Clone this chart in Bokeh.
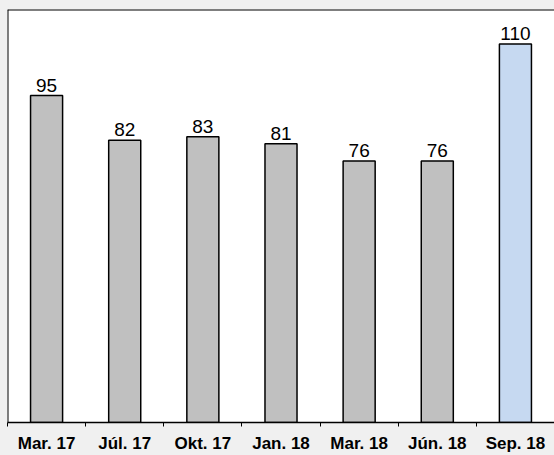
from bokeh.plotting import figure
from bokeh.models import Range1d, FixedTicker, Span, ColumnDataSource, GlobalInlineStyleSheet
from bokeh.core.properties import value
from bokeh.embed import file_html
from bokeh.resources import INLINE

categories = ["Mar. 17", "Júl. 17", "Okt. 17", "Jan. 18", "Mar. 18", "Jún. 18", "Sep. 18"]
values = [95, 82, 83, 81, 76, 76, 110]
bar_colors = ["#c0c0c0", "#c0c0c0", "#c0c0c0", "#c0c0c0", "#c0c0c0", "#c0c0c0", "#c6d9f1"]
value_labels = [str(v) for v in values]

n = len(categories)
centers = [i + 0.5 for i in range(n)]

src = ColumnDataSource(dict(x=centers, top=values, color=bar_colors, label=value_labels))

p = figure(width=554, height=455, output_backend="svg", toolbar_location=None,
           x_range=Range1d(0, n), y_range=Range1d(0, 120),
           y_axis_location=None, min_border_left=7, min_border_right=0,
           min_border_top=9, min_border_bottom=31)
p.stylesheets = [GlobalInlineStyleSheet(css="body { background: #f0f0f0; }")]
p.outline_line_color = None
p.background_fill_color = "white"
p.border_fill_color = "#f0f0f0"
p.xgrid.visible = False
p.ygrid.visible = False

p.vbar(x="x", top="top", width=0.41, bottom=0, source=src, fill_color="color",
       line_color="black", line_width=1.5)

p.text(x="x", y="top", text="label", source=src, text_align="center",
       text_baseline="bottom", y_offset=-4, text_font=value("Liberation Sans"),
       text_font_size="19px", text_color="black")

p.add_layout(Span(location=0, dimension="height", line_color="black", line_width=2))
p.add_layout(Span(location=120, dimension="width", line_color="black", line_width=2))

ax = p.xaxis[0]
ax.ticker = FixedTicker(ticks=centers, minor_ticks=list(range(n + 1)))
ax.major_label_overrides = {c: lab for c, lab in zip(centers, categories)}
ax.major_tick_line_color = None
ax.major_tick_out = 0
ax.major_tick_in = 0
ax.minor_tick_line_color = "black"
ax.minor_tick_out = 4
ax.minor_tick_in = 0
ax.axis_line_color = "black"
ax.axis_line_width = 1.5
ax.major_label_standoff = 7
ax.major_label_text_font = "Liberation Sans"
ax.major_label_text_font_style = "bold"
ax.major_label_text_font_size = "17px"
ax.major_label_text_color = "black"

open("out.html", "w").write(file_html(p, INLINE))
